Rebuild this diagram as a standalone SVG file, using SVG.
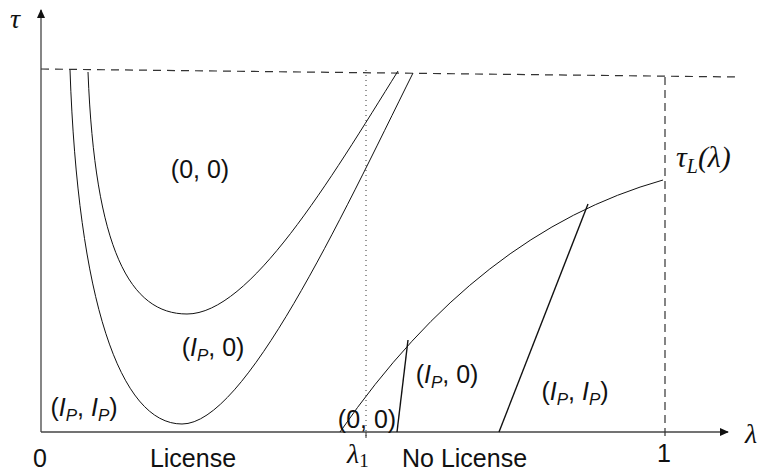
<svg xmlns="http://www.w3.org/2000/svg" width="761" height="473" viewBox="0 0 761 473">
<defs>
<style>
.lbl{font-family:"Liberation Sans","DejaVu Sans",sans-serif;font-size:25px;fill:#111;}
.m{font-family:"Liberation Serif","DejaVu Serif",serif;font-style:italic;fill:#111;}
.ax{stroke:#444;stroke-width:1.3;fill:none;}
.cv{stroke:#111;stroke-width:1;fill:none;}
.ln{stroke:#111;stroke-width:1.4;fill:none;}
</style>
<marker id="ah" viewBox="0 0 10 10" refX="9" refY="5" markerWidth="9" markerHeight="9" markerUnits="userSpaceOnUse" orient="auto">
<path d="M0,0.5 L10,5 L0,9.5 Z" fill="#111"/>
</marker>
</defs>
<rect width="761" height="473" fill="#fff"/>
<g id="connectors">
<line class="ax" x1="41" y1="432" x2="728" y2="432" marker-end="url(#ah)"/>
<line class="ax" x1="41" y1="432" x2="41" y2="10" marker-end="url(#ah)"/>
<line x1="41" y1="69" x2="738" y2="77" stroke="#333" stroke-width="1.2" stroke-dasharray="8,6"/>
<line x1="665" y1="77" x2="665" y2="437" stroke="#333" stroke-width="1.2" stroke-dasharray="8,5"/>
<line x1="366" y1="70" x2="366" y2="437" stroke="#333" stroke-width="1" stroke-dasharray="1,4"/>
<line x1="366" y1="432" x2="366" y2="438" stroke="#333" stroke-width="1"/>
<path class="cv" d="M70,70 C78,300 120,424 182,424 C245,424 340,220 413,73"/>
<path class="cv" d="M88,72 C95,250 130,314 187,314 C250,314 330,180 398,71"/>
<path class="cv" d="M340,432 Q478,232 663,180"/>
<line class="ln" x1="408" y1="340" x2="397" y2="432"/>
<line class="ln" x1="588" y1="204" x2="499" y2="432"/>
</g>
<g id="labels">
<text class="m" x="15" y="28" font-size="28" text-anchor="middle">τ</text>
<text class="m" x="751" y="443" font-size="28" text-anchor="middle">λ</text>
<text class="m" x="676" y="167" font-size="30">τ<tspan font-size="20" dy="6">L</tspan><tspan dy="-6">(λ)</tspan></text>
<text class="m" x="347" y="463" font-size="28">λ<tspan font-style="normal" font-size="19" dy="4">1</tspan></text>
<text class="lbl" x="200" y="178" text-anchor="middle">(0, 0)</text>
<text class="lbl" x="213" y="356" text-anchor="middle">(<tspan font-style="italic">I</tspan><tspan font-style="italic" font-size="17" dy="5">P</tspan><tspan dy="-5">, 0)</tspan></text>
<text class="lbl" x="84" y="416" text-anchor="middle">(<tspan font-style="italic">I</tspan><tspan font-style="italic" font-size="17" dy="5">P</tspan><tspan dy="-5">, </tspan><tspan font-style="italic">I</tspan><tspan font-style="italic" font-size="17" dy="5">P</tspan><tspan dy="-5">)</tspan></text>
<text class="lbl" x="367" y="428" text-anchor="middle">(0, 0)</text>
<text class="lbl" x="447" y="383" text-anchor="middle">(<tspan font-style="italic">I</tspan><tspan font-style="italic" font-size="17" dy="5">P</tspan><tspan dy="-5">, 0)</tspan></text>
<text class="lbl" x="575" y="400" text-anchor="middle">(<tspan font-style="italic">I</tspan><tspan font-style="italic" font-size="17" dy="5">P</tspan><tspan dy="-5">, </tspan><tspan font-style="italic">I</tspan><tspan font-style="italic" font-size="17" dy="5">P</tspan><tspan dy="-5">)</tspan></text>
<text class="lbl" x="40" y="467" text-anchor="middle">0</text>
<text class="lbl" x="193" y="467" text-anchor="middle">License</text>
<text class="lbl" x="402" y="467">No License</text>
<text class="lbl" x="664" y="462" text-anchor="middle">1</text>
</g>
</svg>
